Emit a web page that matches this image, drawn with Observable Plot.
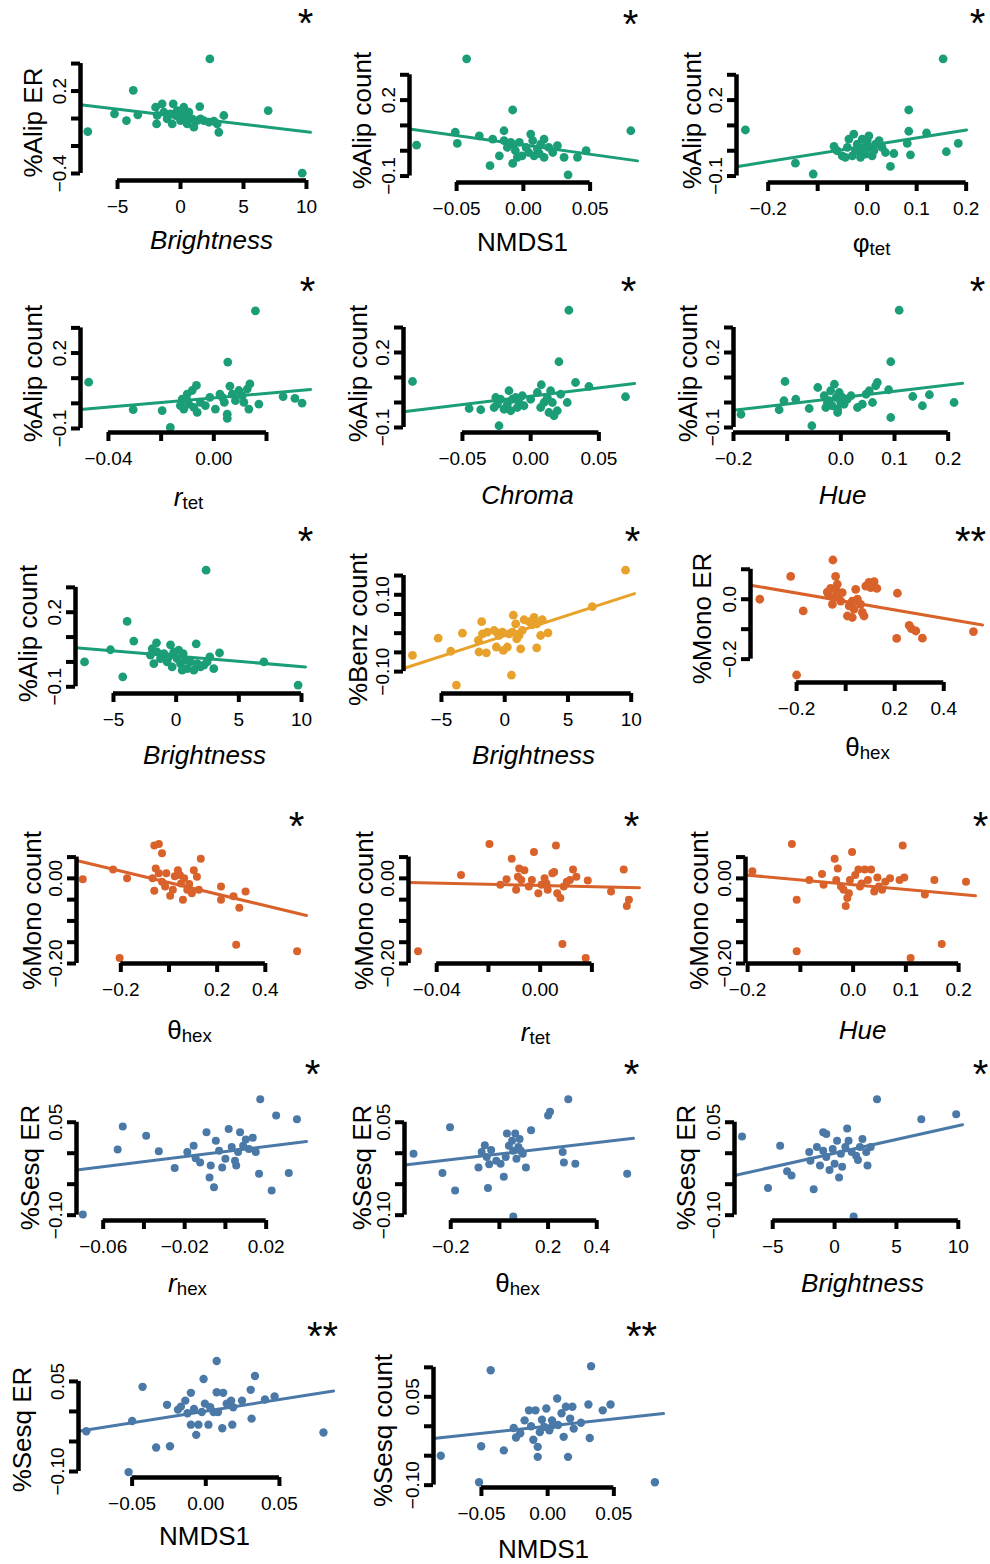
<!DOCTYPE html>
<html><head><meta charset="utf-8">
<script src="https://cdn.jsdelivr.net/npm/d3@7"></script>
<script src="https://cdn.jsdelivr.net/npm/@observablehq/plot@0.6"></script>
<style>
body{margin:0;background:#fff;}
#chart{position:relative;width:990px;height:1564px;overflow:hidden;background:#fff;}
</style></head><body><div id="chart"></div>
<script>
// ---------------- DATA ----------------
const p01 = [[2.33,0.434],[-3.75,0.205],[-7.36,-0.095],[-5.24,0.034],[-4.29,-0.015],[-3.39,0.027],[-0.58,0.107],[1.53,0.087],[6.96,0.058],[3.44,0.022],[3.04,-0.10],[9.66,-0.398],[-1.98,0.082],[-1.85,0.022],[-1.90,-0.039],[-1.46,0.107],[-1.32,0.046],[-1.06,-0.002],[-0.79,0.034],[-0.66,-0.039],[-0.40,0.022],[-0.26,0.058],[0,-0.015],[0.13,0.034],[0.26,0.082],[0.40,0.010],[0.53,-0.039],[0.66,0.046],[0.93,-0.002],[1.06,-0.063],[1.32,-0.015],[1.59,-0.002],[1.85,-0.015],[2.25,-0.027],[2.65,-0.019],[2.91,-0.039]];
const p02 = [[-0.0425,0.363],[-0.08,0.022],[-0.051,0.073],[-0.0495,0.029],[-0.033,0.059],[-0.023,0.046],[-0.0145,0.079],[-0.008,0.161],[-0.025,-0.059],[-0.018,-0.020],[-0.012,0.013],[-0.008,-0.050],[-0.0095,0.033],[-0.006,0],[-0.003,0.033],[-0.001,-0.020],[0.002,0.013],[0.0055,0.066],[0.007,0.040],[0.008,-0.020],[0.0105,0.007],[0.013,0.026],[0.0155,0.046],[0.0155,-0.026],[0.019,0.013],[0.0255,0.020],[0.0305,-0.026],[0.0335,-0.095],[0.0405,-0.026],[0.047,0],[0.0805,0.079],[-0.0145,0.040],[-0.0045,-0.026],[0.004,-0.007],[0.012,-0.011],[0.022,-0.007],[-0.0075,0.024]];
const p03 = [[0.1535,0.363],[-0.246,0.082],[-0.145,-0.049],[-0.109,-0.092],[0.084,0.161],[0.084,0.077],[0.120,0.070],[0.081,0.029],[0.0875,-0.016],[0.160,-0.004],[0.184,0.029],[0.047,-0.062],[0.054,-0.011],[-0.067,0.017],[-0.061,0],[-0.0505,-0.020],[-0.037,0.046],[-0.030,-0.020],[-0.027,0.066],[-0.020,0.026],[-0.017,0],[-0.0135,-0.026],[-0.010,0.046],[-0.0067,0.013],[-0.0034,-0.013],[0,0.040],[0.0034,0.059],[0.0067,0.013],[0.010,-0.020],[0.017,0.026],[0.024,0.040],[0.030,0.013],[0.037,-0.007],[-0.040,0.013],[-0.0236,0],[-0.005,-0.003],[0.0135,0],[-0.044,-0.026]];
const p04 = [[0.0158,0.368],[-0.0475,0.084],[-0.0306,-0.025],[-0.0196,-0.029],[-0.0165,-0.096],[0.0053,0.164],[0.0051,-0.043],[0.0051,-0.060],[-0.0127,-0.009],[-0.012,0.017],[-0.0114,-0.023],[-0.0101,0.037],[-0.0095,-0.003],[-0.0082,0.051],[-0.0076,-0.016],[-0.0066,0.071],[-0.0063,-0.036],[-0.0051,0.004],[-0.0032,-0.009],[-0.0015,0.024],[0.0006,-0.023],[0.0023,0.037],[0.0032,0.024],[0.004,0.004],[0.0061,0.068],[0.007,0.037],[0.0082,0.011],[0.0095,0.051],[0.0108,0.031],[0.0114,0.004],[0.0127,0.057],[0.0137,0.077],[0.0133,-0.023],[0.0171,-0.003],[0.0263,0.027],[0.0308,0.020],[0.0335,0.001],[-0.0101,0.011]];
const p05 = [[0.028,0.369],[-0.0866,0.084],[0.0207,0.163],[-0.0451,-0.024],[-0.0366,-0.029],[-0.0232,-0.093],[0.0695,0.023],[0.0427,0.064],[0.0329,0.080],[0.0268,0],[0.0171,-0.053],[0.0195,-0.033],[0.0078,0.071],[0.0049,0.040],[0.0098,0],[0.0122,0.020],[0.0146,0.047],[0.0159,0],[0.0073,-0.020],[0.022,0.033],[-0.0061,0.027],[-0.0085,0],[-0.0098,-0.020],[-0.0134,0.013],[-0.0159,0.047],[-0.0171,-0.007],[-0.0195,-0.027],[-0.022,0.013],[-0.0244,-0.007],[-0.0256,0.020],[-0.0268,-0.020],[-0.0146,-0.033],[-0.011,0.020],[-0.0049,-0.013],[0,0.013],[0.0134,-0.040]];
const p06 = [[0.1087,0.369],[-0.186,-0.047],[-0.104,0.084],[-0.115,-0.029],[-0.106,0.007],[-0.084,0.013],[-0.059,-0.024],[-0.054,-0.093],[-0.043,0.060],[-0.031,0.027],[-0.028,-0.020],[-0.022,0.007],[-0.019,0.047],[-0.016,-0.013],[-0.012,0.073],[-0.009,0.020],[-0.006,-0.027],[-0.003,0.040],[0,0],[0.003,0.020],[0.006,-0.007],[0.012,0.013],[0.019,0.027],[0.031,-0.020],[0.040,-0.007],[0.047,0.033],[0.053,0.047],[0.059,0],[0.065,0.067],[0.068,0.080],[0.089,0.051],[0.093,0.163],[0.093,-0.060],[0.134,0.024],[0.152,-0.013],[0.165,0.031],[0.211,0],[-0.025,0],[-0.006,-0.040]];
const p07 = [[2.39,0.369],[-7.31,0],[-3.91,0.163],[-3.38,0.084],[-4.26,-0.060],[-5.24,0.049],[-1.57,0.077],[-0.45,0.069],[1.60,0.073],[3.46,0.036],[7.0,0],[9.73,-0.093],[3.0,-0.027],[2.69,0.020],[1.94,-0.020],[-1.91,0.053],[-2.05,0.027],[-1.78,-0.007],[-1.52,0.040],[-1.25,0.013],[-0.98,0.033],[-0.72,0],[-0.59,0.020],[-0.32,-0.020],[-0.19,0.040],[0.08,0.013],[0.21,0.047],[0.35,-0.007],[0.56,0.033],[0.74,0.007],[0.88,-0.027],[1.14,0],[1.41,-0.033],[1.68,-0.007],[2.21,-0.013],[2.47,0],[0.48,-0.033]];
const p08 = [[9.55,0.164],[6.92,0.069],[-7.29,-0.058],[-5.26,-0.013],[-4.26,-0.047],[-3.82,-0.135],[-3.34,0],[-1.82,0.030],[-2.08,-0.019],[-2.03,-0.049],[-1.45,-0.051],[-1.76,-0.002],[-1.37,0.003],[-0.84,0.007],[-0.66,-0.036],[-0.45,-0.006],[-0.18,0.003],[-0.11,-0.045],[0.21,-0.036],[0.53,-0.109],[0.61,0.003],[0.68,0.047],[0.87,0.024],[0.95,-0.015],[1.13,-0.006],[1.26,-0.041],[1.39,0.007],[1.53,0.035],[1.92,0.030],[2.18,0.022],[2.32,0.041],[2.53,0.024],[2.53,-0.038],[2.84,-0.006],[2.97,0.035],[3.42,0.001],[0.34,-0.002],[-0.58,0.001]];
const p09 = [[-0.052,0.131],[-0.224,0.076],[-0.350,0],[-0.173,-0.039],[-0.200,-0.253],[-0.041,0.076],[-0.034,0.050],[-0.075,0.024],[-0.068,0.011],[-0.061,0.036],[-0.054,-0.017],[-0.048,0.006],[-0.038,0.028],[-0.027,0.017],[-0.020,-0.006],[0.007,-0.056],[0.027,-0.061],[0.014,-0.022],[0.027,-0.006],[0.041,0.033],[0.048,0],[0.061,-0.017],[0.068,-0.044],[0.075,-0.056],[0.082,0.044],[0.095,0.056],[0.116,0.059],[0.127,0.036],[0.102,0.039],[0.211,0.020],[0.208,-0.131],[0.259,-0.087],[0.268,-0.098],[0.286,-0.106],[0.313,-0.130],[0.521,-0.108],[0.034,-0.033],[-0.014,0.022]];
const p10 = [[-0.358,-0.002],[-0.205,-0.187],[-0.232,0.021],[-0.174,0],[-0.061,0.077],[-0.042,0.081],[-0.029,0.059],[-0.055,0.023],[-0.068,0],[-0.061,-0.029],[-0.042,0.012],[-0.029,-0.008],[-0.016,-0.019],[0.005,-0.041],[0.016,-0.027],[0.024,0.005],[0.037,0.019],[0.05,-0.012],[0.058,-0.05],[0.063,0],[0.076,-0.027],[0.084,-0.013],[0.095,-0.035],[0.103,0.019],[0.116,0.004],[0.124,-0.027],[0.132,0.046],[0.216,-0.019],[0.216,-0.05],[0.268,-0.042],[0.279,-0.156],[0.292,-0.069],[0.318,-0.031],[0.532,-0.171],[-0.011,0.012],[0.045,0.008]];
const p11 = [[-0.0472,-0.171],[-0.0306,0.008],[-0.0196,0.081],[-0.0154,-0.015],[-0.013,-0.002],[-0.011,0.046],[-0.0093,-0.027],[-0.0081,0.023],[-0.0073,-0.004],[-0.0061,0.019],[-0.0044,-0.019],[-0.0032,-0.004],[-0.0024,0.062],[-0.0007,-0.035],[0.0005,-0.015],[0.0017,0],[0.0029,-0.027],[0.0047,0.012],[0.0054,0.015],[0.0061,0.077],[0.0066,-0.035],[0.0078,-0.046],[0.0086,-0.154],[0.0091,-0.019],[0.0115,-0.004],[0.0127,0.021],[0.014,0.004],[0.0176,-0.187],[0.0184,-0.005],[0.0274,-0.031],[0.0323,0.021],[0.0343,-0.05],[0.0335,-0.065],[-0.0086,0.004],[0.0024,-0.012],[0.0103,-0.008]];
const p12 = [[-0.191,0.017],[-0.116,0.081],[-0.107,-0.05],[-0.107,-0.171],[-0.083,-0.004],[-0.059,0.010],[-0.056,-0.015],[-0.035,0.046],[-0.032,-0.004],[-0.029,0.023],[-0.023,-0.019],[-0.018,-0.027],[-0.014,-0.065],[-0.011,-0.046],[-0.008,-0.035],[-0.002,0.062],[-0.006,-0.004],[0.004,0.008],[0.010,0.021],[0.013,-0.019],[0.022,0.021],[0.028,-0.004],[0.034,0.021],[0.040,-0.031],[0.046,0.002],[0.049,-0.019],[0.055,-0.027],[0.061,-0.008],[0.070,0],[0.088,-0.004],[0.094,0.077],[0.097,0.002],[0.109,-0.187],[0.136,-0.038],[0.154,-0.004],[0.168,-0.154],[0.214,-0.008],[0.016,-0.012]];
const p13 = [[-0.070,-0.099],[-0.0529,0.006],[-0.0504,0.043],[-0.0389,0.028],[-0.0327,0.003],[-0.0249,-0.024],[-0.0187,0.002],[-0.0156,0.012],[-0.0146,-0.008],[-0.0124,-0.015],[-0.0093,0.034],[-0.0078,-0.039],[-0.0072,-0.020],[-0.0056,-0.055],[-0.0047,0.020],[-0.0031,0.004],[0,-0.009],[0.0016,0.039],[0.0031,0.010],[0.0053,-0.020],[0.0062,0.002],[0.0072,0.034],[0.0087,0.012],[0.010,0.022],[0.0115,0.007],[0.0134,0.025],[0.0149,0.002],[0.0165,-0.033],[0.0171,0.087],[0.0227,-0.060],[0.0249,0.061],[0.0311,-0.032],[0.0351,0.055],[0.0047,-0.012],[-0.0016,-0.023]];
const p14 = [[-0.353,-0.001],[-0.234,-0.032],[-0.203,0.042],[-0.182,-0.060],[-0.086,-0.023],[-0.073,0.002],[-0.060,0.013],[-0.052,-0.006],[-0.047,-0.056],[-0.042,-0.018],[-0.034,0.005],[0.005,-0.017],[0.018,-0.038],[0.031,0.032],[0.039,0.012],[0.052,0.020],[0.057,0.004],[0.065,0.032],[0.070,-0.009],[0.078,0.010],[0.083,0.023],[0.088,0.004],[0.096,-0.001],[0.109,-0.023],[0.057,-0.102],[0.130,0.037],[0.200,0.061],[0.208,0.067],[0.260,0.002],[0.265,-0.015],[0.283,0.087],[0.312,-0.017],[0.525,-0.033],[0.026,-0.006],[-0.013,-0.012]];
const p15 = [[-7.48,0.027],[-5.38,-0.056],[-4.40,0.012],[-3.84,-0.029],[-3.48,-0.036],[-2.05,0.002],[-1.95,-0.012],[-1.69,-0.058],[-1.43,0.010],[-1.18,-0.020],[-0.92,0.034],[-0.67,0.031],[-0.67,-0.006],[-0.41,-0.027],[-0.15,0.007],[0,-0.017],[0.20,0.020],[0.36,-0.039],[0.51,-0.001],[0.61,-0.022],[0.87,0.010],[1.02,0.040],[1.13,0.020],[1.38,0.002],[1.54,-0.102],[1.74,-0.004],[2.05,0.010],[2.25,0.023],[2.56,0.002],[2.66,-0.020],[2.92,0.010],[3.43,0.087],[7.01,0.055],[9.83,0.063],[-0.92,0.004],[1.89,-0.011]];
const p16 = [[-0.0811,-0.033],[-0.0524,-0.101],[-0.050,-0.016],[-0.0429,0.041],[-0.0337,-0.060],[-0.0243,-0.058],[-0.0263,0.011],[-0.0189,0.003],[-0.0169,0.008],[-0.0139,0.018],[-0.0101,0.031],[-0.0124,-0.003],[-0.0101,-0.022],[-0.008,0.004],[-0.0065,-0.039],[-0.005,-0.022],[-0.0027,-0.001],[-0.0015,0.054],[-0.0006,0.013],[0.0018,-0.022],[0.0053,-0.001],[0.0074,0.084],[0.0074,0.032],[0.0083,-0.001],[0.0112,-0.028],[0.0118,0.031],[0.0142,0.013],[0.0172,0.018],[0.018,-0.022],[0.0186,0.007],[0.0246,0.018],[0.0305,0.036],[0.0311,-0.012],[0.0334,0.059],[0.0402,0.020],[0.0467,0.025],[0.0799,-0.035],[0.003,0.007]];
const p17 = [[-0.0807,-0.050],[-0.0518,-0.095],[-0.0502,-0.034],[-0.043,0.095],[-0.0331,-0.041],[-0.0256,-0.003],[-0.0239,-0.019],[-0.0207,-0.012],[-0.0174,0.010],[-0.0141,0.027],[-0.0125,0],[-0.0108,-0.023],[-0.0092,0.027],[-0.0075,-0.035],[-0.0075,-0.052],[-0.0059,-0.010],[-0.0043,0.011],[-0.0026,-0.001],[-0.001,0.030],[0.0013,-0.007],[0.0039,0.002],[0.0072,0.047],[0.0079,0.002],[0.0105,0.022],[0.0121,-0.018],[0.0138,0.033],[0.0154,-0.052],[0.017,0.013],[0.0187,0.033],[0.0197,-0.004],[0.0252,0.006],[0.0308,0.037],[0.0318,-0.020],[0.0328,0.102],[0.0416,0.027],[0.0475,0.037],[0.081,-0.095],[0.0033,0.010]];
const points = [p01,p02,p03,p04,p05,p06,p07,p08,p09,p10,p11,p12,p13,p14,p15,p16,p17];

// regression lines: [intercept, slope]
const fits = [[0.013,-0.01095],[0.023,-0.738],[0.0194,0.312],[0.0214,0.916],[0.0252,0.667],[0.0196,0.253],[0.0233,-0.0042],[-0.0066,0.01068],[-0.0076,-0.1406],[-0.0099,-0.1351],[-0.0168,-0.134],[-0.0149,-0.1124],[0.00275,0.407],[-0.0012,0.0457],[0.0,0.00445],[0.00044,0.387],[0.0001,0.2447]];

const yTitles = ["%Alip ER","%Alip count","%Alip count","%Alip count","%Alip count","%Alip count","%Alip count","%Benz count","%Mono ER","%Mono count","%Mono count","%Mono count","%Sesq ER","%Sesq ER","%Sesq ER","%Sesq ER","%Sesq count"];
const xTitles = ["Brightness","NMDS1","φ|tet","r|tet","Chroma","Hue","Brightness","Brightness","θ|hex","θ|hex","r|tet","Hue","r|hex","θ|hex","Brightness","NMDS1","NMDS1"];
const xTitleItalic = [1,0,0,1,1,1,1,1,0,0,1,1,1,0,1,0,0];
const stars = ["*","*","*","*","*","*","*","*","**","*","*","*","*","*","*","**","**"];
const group = ["Alip","Alip","Alip","Alip","Alip","Alip","Alip","Benz","Mono","Mono","Mono","Mono","Sesq","Sesq","Sesq","Sesq","Sesq"];

const xT_bright = [-5,0,5,10], xL_bright = ["−5","0","5","10"];
const xT_nmds = [-0.05,0,0.05], xL_nmds = ["−0.05","0.00","0.05"];
const xT_hue = [-0.2,-0.1,0,0.1,0.2], xL_hue = ["−0.2","","0.0","0.1","0.2"];
const xT_rtet = [-0.04,-0.02,0,0.02], xL_rtet = ["−0.04","","0.00",""];
const xT_theta = [-0.2,0,0.2,0.4], xL_theta = ["−0.2","","0.2","0.4"];
const xT_rhex = [-0.06,-0.04,-0.02,0,0.02], xL_rhex = ["−0.06","","−0.02","","0.02"];
const xTicks = [xT_bright,xT_nmds,xT_hue,xT_rtet,xT_nmds,xT_hue,xT_bright,xT_bright,xT_theta,xT_theta,xT_rtet,xT_hue,xT_rhex,xT_theta,xT_bright,xT_nmds,xT_nmds];
const xTickLabels = [xL_bright,xL_nmds,xL_hue,xL_rtet,xL_nmds,xL_hue,xL_bright,xL_bright,xL_theta,xL_theta,xL_rtet,xL_hue,xL_rhex,xL_theta,xL_bright,xL_nmds,xL_nmds];

const yT_aer = [-0.4,-0.2,0,0.2,0.4], yL_aer = ["−0.4","","","0.2",""];
const yT_ac = [-0.1,0,0.1,0.2,0.3], yL_ac = ["−0.1","","","0.2",""];
const yT_bc = [-0.10,-0.05,0,0.05,0.10,0.15], yL_bc = ["−0.10","","","","0.10",""];
const yT_mer = [-0.2,-0.1,0,0.1], yL_mer = ["−0.2","","0.0",""];
const yT_mc = [-0.20,-0.15,-0.10,-0.05,0,0.05], yL_mc = ["−0.20","","","","0.00",""];
const yT_ser = [-0.10,-0.05,0,0.05], yL_ser = ["−0.10","","","0.05"];
const yT_sc = [-0.10,-0.05,0,0.05,0.10], yL_sc = ["−0.10","","","0.05",""];
const yTicks = [yT_aer,yT_ac,yT_ac,yT_ac,yT_ac,yT_ac,yT_ac,yT_bc,yT_mer,yT_mc,yT_mc,yT_mc,yT_ser,yT_ser,yT_ser,yT_ser,yT_sc];
const yTickLabels = [yL_aer,yL_ac,yL_ac,yL_ac,yL_ac,yL_ac,yL_ac,yL_bc,yL_mer,yL_mc,yL_mc,yL_mc,yL_ser,yL_ser,yL_ser,yL_ser,yL_sc];

// ---------------- LAYOUT / STYLE ----------------
const colors = {Alip: "#1b9e77", Benz: "#e8a22c", Mono: "#d9622b", Sesq: "#4a79a8"};
const FONT = '"Liberation Sans", Arial, Helvetica, sans-serif';
const W = 340;
const colX = [0, 330, 660];
const rowY = [0, 265, 515, 790, 1050, 1300];
const rowH = [265, 250, 275, 260, 250, 264];
const layout = [
  {col:0,row:0,L:80,R:310,T:50,B:180,xd:[-7.94,10.32],yd:[-0.451,0.495],ylab:[33,122],xlab:[211,240],star:[305,17]},
  {col:1,row:0,L:79,R:307,T:50,B:182,xd:[-0.0853,0.0855],yd:[-0.1255,0.396],ylab:[32,120],xlab:[192,242],star:[300,18]},
  {col:2,row:0,L:76,R:306,T:50,B:182,xd:[-0.264,0.2007],yd:[-0.1255,0.396],ylab:[32,120],xlab:[211,243],star:[317,17]},
  {col:0,row:1,L:80,R:310,T:38,B:167,xd:[-0.0506,0.0367],yd:[-0.116,0.397],ylab:[33,108],xlab:[188,232],star:[307,20]},
  {col:1,row:1,L:73,R:304,T:37,B:167,xd:[-0.0932,0.0761],yd:[-0.12,0.40],ylab:[28,108],xlab:[197,230],star:[298,20]},
  {col:2,row:1,L:73,R:302,T:37,B:167,xd:[-0.2,0.2267],yd:[-0.12,0.40],ylab:[28,108],xlab:[182,230],star:[317,20]},
  {col:0,row:2,L:75,R:305,T:47,B:178,xd:[-8.03,10.32],yd:[-0.127,0.40],ylab:[28,118],xlab:[204,240],star:[305,20]},
  {col:1,row:2,L:73,R:304,T:47,B:178,xd:[-8.0,10.26],yd:[-0.157,0.184],ylab:[28,114],xlab:[203,240],star:[302,20]},
  {col:2,row:2,L:90,R:322,T:37,B:167,xd:[-0.388,0.558],yd:[-0.278,0.156],ylab:[42,103],xlab:[207,232],star:[310,20]},
  {col:0,row:3,L:76,R:306,T:47,B:173,xd:[-0.384,0.571],yd:[-0.2,0.096],ylab:[32,120],xlab:[189,240],star:[296,30]},
  {col:1,row:3,L:78,R:309,T:47,B:173,xd:[-0.0509,0.0384],yd:[-0.2,0.096],ylab:[34,120],xlab:[205,242],star:[301,30]},
  {col:2,row:3,L:85,R:315,T:47,B:173,xd:[-0.204,0.232],yd:[-0.2,0.096],ylab:[39,120],xlab:[202,240],star:[320,30]},
  {col:0,row:4,L:76,R:306,T:42,B:170,xd:[-0.0731,0.0398],yd:[-0.1086,0.098],ylab:[30,117],xlab:[187,233],star:[312,18]},
  {col:1,row:4,L:74,R:303,T:42,B:170,xd:[-0.390,0.551],yd:[-0.1086,0.098],ylab:[32,117],xlab:[187,233],star:[301,18]},
  {col:2,row:4,L:74,R:302,T:42,B:170,xd:[-8.09,10.34],yd:[-0.1086,0.098],ylab:[26,117],xlab:[202,233],star:[320,18]},
  {col:0,row:5,L:78,R:333,T:53,B:177,xd:[-0.0864,0.0867],yd:[-0.110,0.0965],ylab:[22,129],xlab:[204,236],star:[322,30]},
  {col:1,row:5,L:103,R:333,T:58,B:187,xd:[-0.0862,0.0875],yd:[-0.104,0.115],ylab:[53,130],xlab:[213,249],star:[311,30]}
];
const dotR = [4.4,4.4,4.4,4.4,4.4,4.4,4.4,4.4,4.4,4,4,4,4,4,4,4.2,4.2];

// ---------------- RENDER ----------------
const root = document.getElementById("chart");
const NS = "http://www.w3.org/2000/svg";
for (let i = 0; i < 17; i++) {
  const g = layout[i];
  const H = rowH[g.row];
  const [a, b] = fits[i];
  const fitLine = g.xd.map(x => ({x, y: a + b * x}));
  const at = (px, py) => ({frameAnchor: "top-left", dx: px - g.L, dy: py - g.T, textAnchor: "middle", lineAnchor: "middle"});
  const xt = xTicks[i], yt = yTicks[i];
  const xl = xt.map((v, j) => ({v, s: xTickLabels[i][j]})).filter(d => d.s);
  const yl = yt.map((v, j) => ({v, s: yTickLabels[i][j]})).filter(d => d.s);
  const color = colors[group[i]];
  const plot = Plot.plot({
    width: W, height: H,
    marginLeft: g.L, marginRight: W - g.R, marginTop: g.T, marginBottom: H - g.B,
    x: {domain: g.xd, axis: null},
    y: {domain: g.yd, axis: null},
    style: {background: "transparent", overflow: "visible", fontFamily: FONT, color: "#000"},
    marks: [
      Plot.line(fitLine, {x: "x", y: "y", stroke: color, strokeWidth: 3}),
      Plot.dot(points[i], {x: d => d[0], y: d => d[1], r: dotR[i], fill: color}),
      Plot.ruleX([g.xd[0]], {y1: yt[0], y2: yt[yt.length - 1], strokeWidth: 4.5}),
      Plot.axisY({ticks: yt, anchor: "left", tickSize: 9, tickFormat: () => "", strokeWidth: 4, label: null}),
      Plot.text(yl, {y: "v", text: "s", frameAnchor: "left", rotate: -90, dx: -21, fontSize: 19, textAnchor: "middle", lineAnchor: "middle"}),
      Plot.ruleY([g.yd[0]], {x1: xt[0], x2: xt[xt.length - 1], strokeWidth: 4.5}),
      Plot.axisX({ticks: xt, anchor: "bottom", tickSize: 9, tickFormat: () => "", strokeWidth: 4, label: null}),
      Plot.text(xl, {x: "v", text: "s", frameAnchor: "bottom", dy: 26, fontSize: 19, textAnchor: "middle", lineAnchor: "middle"}),
      Plot.text([xTitles[i]], {...at(g.xlab[0], g.xlab[1]), text: d => d, fontSize: 26, fontStyle: xTitleItalic[i] ? "italic" : "normal"}),
      Plot.text([yTitles[i]], {...at(g.ylab[0], g.ylab[1]), text: d => d, rotate: -90, fontSize: 26}),
      Plot.text([stars[i]], {...at(g.star[0], g.star[1] + 7), text: d => d, fontSize: 40})
    ]
  });
  plot.querySelectorAll("text").forEach(t => {
    const s = t.textContent;
    if (!s.includes("|")) return;
    const [m, sub] = s.split("|");
    t.textContent = "";
    const t1 = document.createElementNS(NS, "tspan"); t1.textContent = m;
    const t2 = document.createElementNS(NS, "tspan"); t2.textContent = sub;
    t2.setAttribute("font-size", "0.72em"); t2.setAttribute("font-style", "normal"); t2.setAttribute("dy", "0.18em");
    t.append(t1, t2);
  });
  plot.style.position = "absolute";
  plot.style.left = colX[g.col] + "px";
  plot.style.top = rowY[g.row] + "px";
  plot.style.maxWidth = "none";
  root.appendChild(plot);
}
</script>
</body></html>
